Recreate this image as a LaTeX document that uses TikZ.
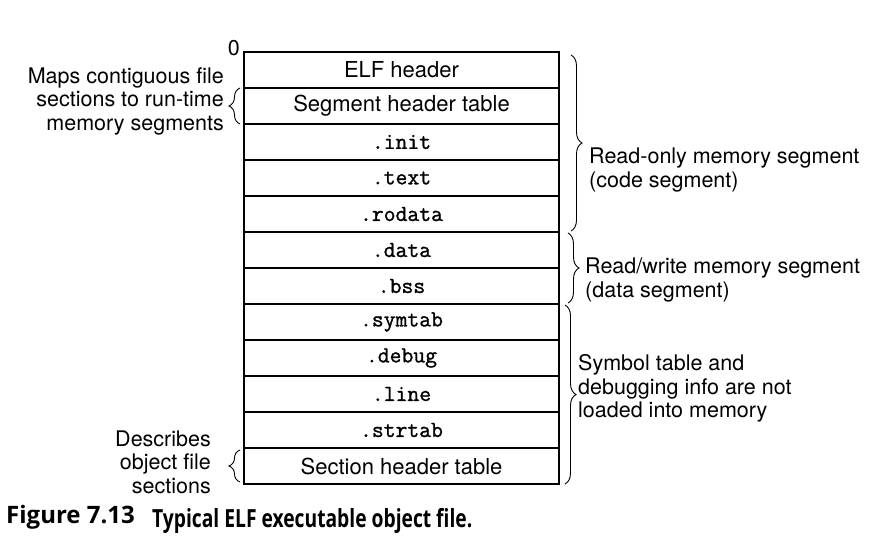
\documentclass[tikz,border=0pt]{standalone}
\usepackage{fontspec}
\setmainfont{TeX Gyre Heros}
\setmonofont[FakeBold=1.2]{Latin Modern Mono}
\newfontfamily\capfont{Open Sans}
\newfontfamily\capnarrow[FakeStretch=0.77]{Open Sans}
\usetikzlibrary{positioning,calc,decorations.pathreplacing}

\begin{document}
\begin{tikzpicture}[x=1pt,y=-1pt,
    sec/.style={draw,line width=1.2pt,minimum width=315pt,minimum height=36pt,
      inner sep=0pt,outer sep=0pt,font=\fontsize{22}{24}\selectfont},
    tsec/.style={sec,font=\fontsize{23}{24}\selectfont\ttfamily},
    brace/.style={decorate,decoration={brace,amplitude=11pt},line width=0.9pt},
    lbl/.style={inner sep=0pt,font=\fontsize{21.5}{23.5}\selectfont}]
    \useasboundingbox (0,0) rectangle (880,554);
    % the sections of the file, top to bottom
    \node[sec,anchor=north west] (elf) at (244,52) {ELF header};
    \node[sec,below=0pt of elf] (pht) {Segment header table};
    \node[tsec,below=0pt of pht] (init) {.init};
    \node[tsec,below=0pt of init] (text) {.text};
    \node[tsec,below=0pt of text] (rodata) {.rodata};
    \node[tsec,below=0pt of rodata] (data) {.data};
    \node[tsec,below=0pt of data] (bss) {.bss};
    \node[tsec,below=0pt of bss] (symtab) {.symtab};
    \node[tsec,below=0pt of symtab] (debug) {.debug};
    \node[tsec,below=0pt of debug] (line) {.line};
    \node[tsec,below=0pt of line] (strtab) {.strtab};
    \node[sec,below=0pt of strtab] (sht) {Section header table};
    \node[lbl,anchor=south east] (zero) at ($(elf.north west)+(-4,4)$) {0};
    % braces on the right
    \draw[brace] ($(elf.north east)+(12,3)$) -- ($(rodata.south east)+(12,-1)$)
      coordinate[midway,xshift=14pt] (ro);
    \draw[brace] ($(data.north east)+(9,1)$) -- ($(bss.south east)+(9,-1)$)
      coordinate[midway,xshift=14pt] (rw);
    \draw[brace] ($(symtab.north east)+(6,1)$) -- ($(sht.south east)+(6,0)$)
      coordinate[midway,xshift=14pt] (sym);
    \node[lbl,anchor=north west,align=left] (rol) at ($(ro)+(4,5)$)
      {Read-only memory segment\\(code segment)};
    \node[lbl,anchor=west,align=left] (rwl) at ($(rw)+(3,12)$)
      {Read/write memory segment\\(data segment)};
    \node[lbl,anchor=west,align=left] (syml) at ($(sym)+(-1,-6)$)
      {Symbol table and\\debugging info are not\\loaded into memory};
    % braces on the left
    \draw[brace] ($(pht.south west)+(-4,0)$) -- ($(pht.north west)+(-4,0)$)
      coordinate[midway,xshift=-14pt] (maps);
    \draw[brace] ($(sht.south west)+(-4,-2)$) -- ($(sht.north west)+(-4,2)$)
      coordinate[midway,xshift=-14pt] (desc);
    \node[lbl,anchor=east,align=right] (mapsl) at ($(maps)+(-2,-5)$)
      {Maps contiguous file\\sections to run-time\\memory segments};
    \node[lbl,anchor=east,align=right] (descl) at ($(desc)+(-15,-4)$)
      {Describes\\object file\\sections};
    % caption
    \node[anchor=base west,inner sep=0pt,font=\capfont\bfseries\fontsize{24}{26}\selectfont]
      (fig) at (6,523) {Figure 7.13};
    \node[anchor=base west,inner sep=0pt,font=\capnarrow\bfseries\fontsize{25}{27}\selectfont]
      (cap) at (152,527) {Typical ELF executable object file.};
\end{tikzpicture}
\end{document}
